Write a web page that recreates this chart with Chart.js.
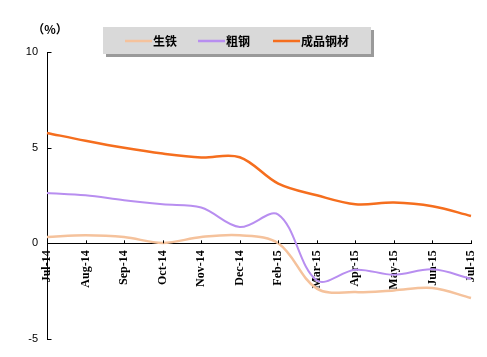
<!DOCTYPE html>
<html>
<head>
<meta charset="utf-8">
<script src="https://cdn.jsdelivr.net/npm/chart.js@4/dist/chart.umd.min.js"></script>
<style>
html,body{margin:0;padding:0;background:#fff;}
#wrap{width:487px;height:357px;position:relative;}
</style>
</head>
<body>
<div id="wrap"><canvas id="c" width="487" height="357"></canvas></div>
<script>
const months = ['Jul-14','Aug-14','Sep-14','Oct-14','Nov-14','Dec-14','Feb-15','Mar-15','Apr-15','May-15','Jun-15','Jul-15'];
const pigIron = [0.33,0.42,0.33,0.02,0.33,0.42,0.0,-2.37,-2.55,-2.46,-2.34,-2.86];
const crudeSteel = [2.63,2.51,2.25,2.04,1.87,0.85,1.5,-1.94,-1.38,-1.64,-1.36,-1.85];
const steelProducts = [5.77,5.36,4.99,4.69,4.49,4.5,3.12,2.51,2.04,2.13,1.94,1.43];
const seriesNames = ['生铁','粗钢','成品钢材'];
const yTicks = [-5,0,5,10];
const unitLabel = '（%）';

const colors = ['#f5c29c','#b88ef0','#f56e1e'];

const decorPlugin = {
  id:'decor',
  afterDatasetsDraw(chart){
    chart.ctx.letterSpacing = '1.5px';
  },
  afterDraw(chart){
    const ctx = chart.ctx;
    ctx.letterSpacing = '0px';
    const xs = chart.scales.x, ys = chart.scales.y;
    const y0 = ys.getPixelForValue(0);
    ctx.save();
    ctx.strokeStyle = '#000';
    ctx.lineWidth = 1;
    // x ticks upward
    for (let i=0;i<months.length;i++){
      const px = Math.round(xs.getPixelForTick(i))+0.5;
      ctx.beginPath(); ctx.moveTo(px, y0); ctx.lineTo(px, y0-3); ctx.stroke();
    }
    // y ticks inward
    const lx = Math.round(chart.chartArea.left)+0.5;
    yTicks.forEach(v=>{
      const py = Math.round(ys.getPixelForValue(v))+0.5;
      ctx.beginPath(); ctx.moveTo(lx, py); ctx.lineTo(lx+4, py); ctx.stroke();
    });
    // unit label
    ctx.fillStyle = '#000';
    ctx.font = 'bold 12px "Noto Sans CJK SC"';
    ctx.textAlign = 'center';
    ctx.textBaseline = 'middle';
    ctx.fillText(unitLabel, 50, 29);
    // legend
    const bx=103, by=27, bw=268, bh=27;
    ctx.fillStyle = '#9a9a9a';
    ctx.fillRect(bx+3, by+3, bw, bh);
    ctx.fillStyle = '#d9d9d9';
    ctx.fillRect(bx, by, bw, bh);
    const items = chart.data.datasets;
    const starts = [125, 198, 273];
    ctx.font = 'bold 12px "Noto Sans CJK SC"';
    ctx.textAlign = 'left';
    items.forEach((ds,i)=>{
      const sx = starts[i];
      ctx.strokeStyle = ds.borderColor;
      ctx.lineWidth = 2.5;
      ctx.beginPath(); ctx.moveTo(sx, 41); ctx.lineTo(sx+27, 41); ctx.stroke();
      ctx.fillStyle = '#000';
      ctx.fillText(ds.label, sx+28, 41);
    });
    ctx.restore();
  }
};

new Chart(document.getElementById('c'), {
  type:'line',
  data:{
    labels: months,
    datasets:[
      {label:seriesNames[0], data:pigIron, borderColor:colors[0], borderWidth:2.5},
      {label:seriesNames[1], data:crudeSteel, borderColor:colors[1], borderWidth:2},
      {label:seriesNames[2], data:steelProducts, borderColor:colors[2], borderWidth:2.5}
    ]
  },
  options:{
    responsive:false,
    animation:false,
    devicePixelRatio:1,
    layout:{padding:{left:0,right:16,top:52,bottom:18}},
    elements:{point:{radius:0}, line:{tension:0.35, cubicInterpolationMode:'default'}},
    plugins:{legend:{display:false}, tooltip:{enabled:false}},
    scales:{
      x:{
        position:{y:0},
        offset:false,
        z:1,
        grid:{display:true, drawOnChartArea:false, drawTicks:false},
        border:{display:true, color:'#000', width:1},
        ticks:{
          autoSkip:false, minRotation:90, maxRotation:90, padding:7,
          color:'#000',
          font:{family:'"Liberation Serif"', size:12, weight:'bold'}
        },
        afterFit(s){ s.height = 0; s.paddingLeft = 0; s.paddingRight = 0; }
      },
      y:{
        min:-5, max:10,
        afterBuildTicks(s){ s.ticks = yTicks.map(v=>({value:v})); },
        grid:{display:false, drawTicks:false},
        border:{display:true, color:'#000', width:1},
        ticks:{
          color:'#000', padding:9,
          font:{family:'"Liberation Sans"', size:11}
        },
        afterFit(s){ s.width = 47; }
      }
    }
  },
  plugins:[decorPlugin]
});
</script>
</body>
</html>
